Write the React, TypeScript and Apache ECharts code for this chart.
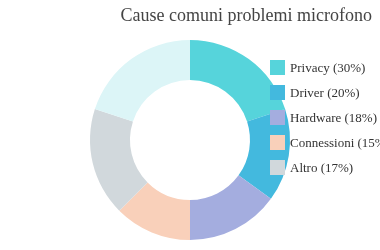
import React, { useEffect, useRef } from "react";
import * as echarts from "echarts";

const titleText = "Cause comuni problemi microfono";
const sliceNames = ["Privacy", "Driver", "Hardware", "Connessioni", "Altro", "Impostazioni"];
const sliceValues = [20, 15, 15, 12.5, 17.5, 20];
const legendNames = ["Privacy", "Driver", "Hardware", "Connessioni", "Altro"];
const legendPercents = [30, 20, 18, 15, 17];
const sliceColors = ["#56d4db", "#43b9de", "#a4addf", "#f9d0ba", "#d1d8dc", "#dcf5f7"];

export default function App() {
  const ref = useRef<HTMLDivElement>(null);
  useEffect(() => {
    if (!ref.current) return;
    const chart = echarts.init(ref.current, undefined, { renderer: "svg" });
    const pctMap: Record<string, number> = {};
    legendNames.forEach((n, i) => (pctMap[n] = legendPercents[i]));
    chart.setOption({
      animation: false,
      textStyle: { fontFamily: "Liberation Serif, serif" },
      title: {
        text: titleText,
        right: 3,
        top: 1,
        textStyle: { fontFamily: "Liberation Serif, serif", fontSize: 18, fontWeight: "normal", color: "#444" },
      },
      legend: {
        data: legendNames,
        orient: "vertical",
        left: 265,
        top: 55,
        itemWidth: 15,
        itemHeight: 15,
        itemGap: 10,
        icon: "rect",
        textStyle: { fontFamily: "Liberation Serif, serif", fontSize: 13, color: "#333" },
        formatter: (name: string) => `${name} (${pctMap[name]}%)`,
      },
      series: [
        {
          type: "pie",
          center: [190, 140],
          radius: [60, 100],
          startAngle: 90,
          clockwise: true,
          label: { show: false },
          labelLine: { show: false },
          itemStyle: { borderWidth: 0 },
          data: sliceNames.map((n, i) => ({ name: n, value: sliceValues[i], itemStyle: { color: sliceColors[i] } })),
        },
      ],
    });
    return () => chart.dispose();
  }, []);
  return <div ref={ref} style={{ position: "fixed", left: 0, top: 0, width: 380, height: 250 }} />;
}
